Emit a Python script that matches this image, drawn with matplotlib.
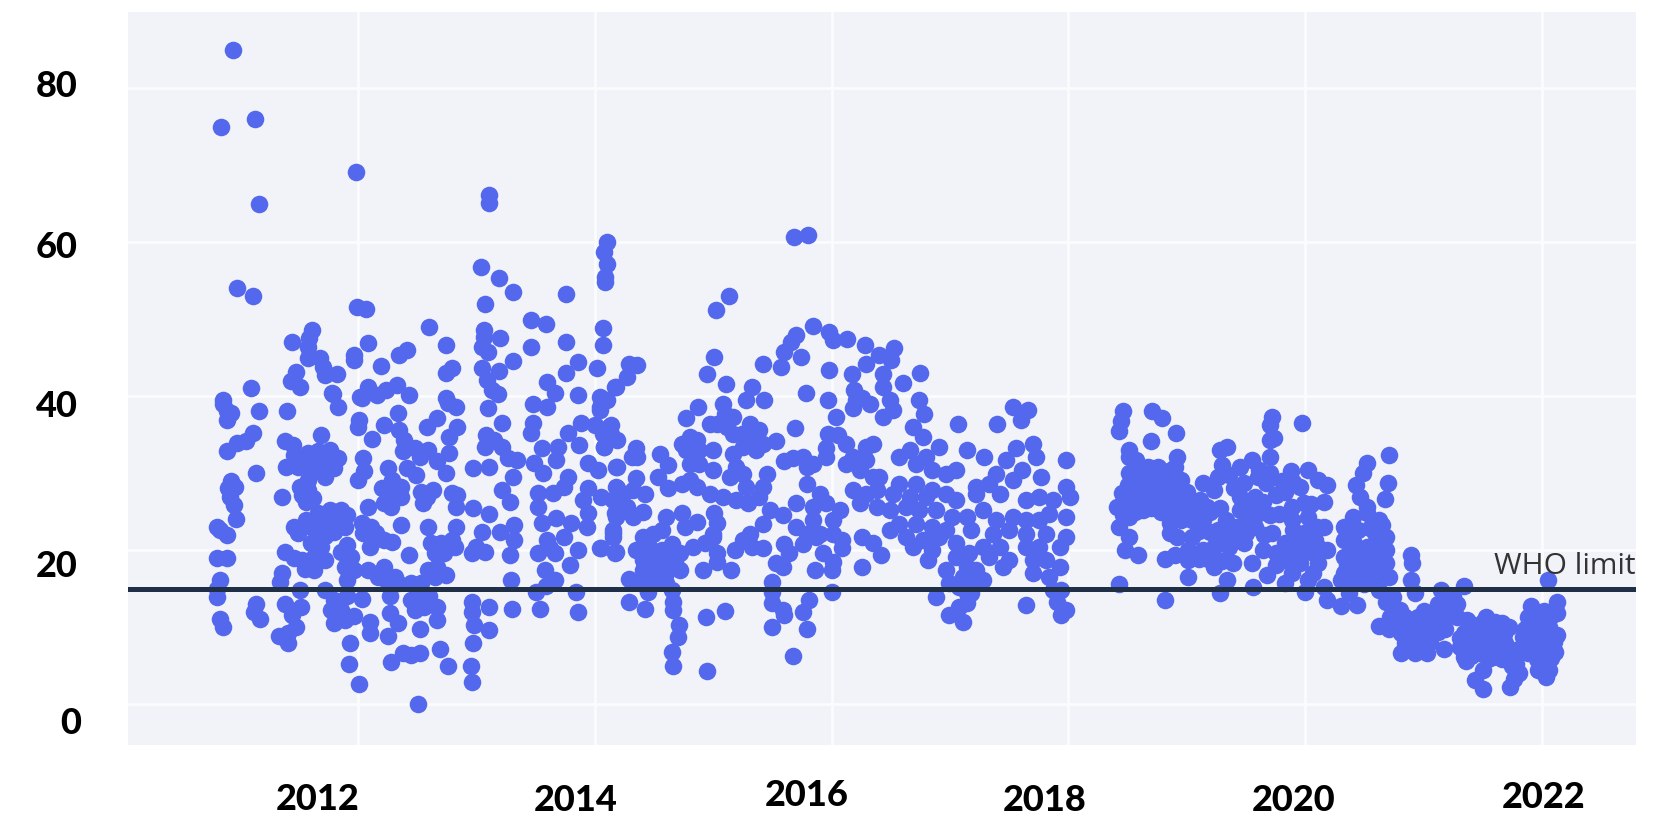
import matplotlib
matplotlib.use("Agg")
import matplotlib.pyplot as plt
from matplotlib.transforms import ScaledTranslation

BASE_YEAR = 2000
WHO_LIMIT = 15
X_TICKS = [2012, 2014, 2016, 2018, 2020, 2022]
Y_TICKS = [0, 20, 40, 60, 80]

# (years since 2000, PM2.5 reading)
outliers = [(10.94,84.9),(10.84,75.0),(11.13,76.0),(11.16,64.9),(11.98,69.1),(13.11,66.1),(13.11,65.1),(10.98,54.0),(11.11,53.0),
(13.04,56.8),(13.19,55.3),(13.31,53.5),(13.76,53.2),(14.10,60.0),(14.08,58.7),(14.10,57.2),(14.09,55.5),(14.09,54.8),(11.99,51.6),(12.07,51.3),
(12.60,49.0),(12.74,46.6),(13.07,51.9),(13.46,49.9),(13.59,49.3),(13.76,47.0),(14.07,48.8),(14.07,46.6),(11.61,48.6),(11.59,47.5),(11.58,46.4),
(11.44,47.0),(11.58,44.9),(11.68,44.9),(11.70,43.8),(11.72,42.7),(11.82,42.9),(11.48,43.1),(11.43,42.0),(11.51,41.2),(11.10,41.0),(11.97,45.3),
(11.97,44.7),(12.08,46.9),(12.19,43.9),(12.41,46.0),(12.35,45.3),(12.79,43.6),(12.74,43.0),(13.05,43.6),(13.09,42.1),(13.13,40.8),(13.18,40.3),
(13.06,48.6),(13.06,47.7),(13.05,46.4),(13.10,45.7),(13.20,47.5),(13.31,44.6),(13.19,43.2),(13.46,46.4),(13.86,44.4),(13.76,43.0),(14.02,43.6),
(13.60,41.8),(13.66,40.4),(13.86,40.1),(14.17,41.2),(11.78,40.4),(12.08,41.2),(12.02,39.9),(12.24,40.8),(12.33,41.4),(12.43,40.1),(12.16,40.1),
(12.74,39.7),(10.86,39.5),(14.04,39.9)]

early_2011 = [(10.86,39.0),(10.89,38.0),(10.93,37.8),(10.89,36.9),(11.16,38.0),(11.40,38.0),(11.11,35.2),(11.05,34.1),(10.98,33.9),(10.89,32.9),
(11.14,30.0),(10.93,29.0),(10.90,28.0),(10.96,28.2),(10.92,26.9),(10.95,25.8),(10.97,24.0),(10.81,23.0),(10.89,22.0),(10.83,22.6),(10.81,18.9),
(10.89,18.9),(10.83,16.1),(10.81,15.0),(10.81,13.9),(10.83,11.1),(10.86,10.0),(11.14,13.0),(11.12,12.0),(11.17,11.0),(11.38,13.0),(11.52,12.6),
(11.44,11.6),(11.48,10.0),(11.33,8.8),(11.41,9.2),(11.41,7.9),(11.36,17.0),(11.34,15.9),(11.51,14.8),(11.72,14.8)]

late_2011 = [(11.38,34.1),(11.45,33.7),(11.46,32.4),(11.39,30.8),(11.69,35.0),(11.58,32.6),(11.66,32.8),(11.76,33.0),(11.83,31.9),(11.80,30.6),
(11.72,29.5),(11.63,30.4),(11.55,30.8),(11.49,30.8),(11.69,31.7),(11.60,31.5),(11.75,31.3),(11.58,29.1),(11.51,28.2),(11.58,27.8),(11.53,27.2),
(11.62,26.7),(11.56,26.3),(11.36,26.9),(11.46,23.0),(11.56,23.9),(11.66,24.8),(11.76,25.2),(11.86,25.2),(11.91,24.6),(11.89,23.0),(11.80,22.4),
(11.69,22.6),(11.60,23.0),(11.49,22.2),(11.73,23.9),(11.83,23.9),(11.38,19.8),(11.46,18.9),(11.55,17.6),(11.63,17.4),(11.72,18.7),(11.69,20.4),
(11.60,20.9),(11.72,21.8),(11.63,19.1),(11.53,18.7),(11.91,20.7),(11.86,19.8),(11.94,19.1),(11.89,17.8),(11.97,17.4),(11.91,16.1),(11.80,13.5),
(11.91,14.0),(11.77,12.2),(11.86,12.2),(11.97,11.4),(11.80,10.5),(11.89,10.9),(11.93,7.9),(11.92,5.2),(11.79,40.2),(11.83,38.6)]

year_2012 = [(12.08,17.4),(12.22,17.8),(12.17,16.5),(12.31,16.5),(12.25,15.7),(12.03,13.7),(12.10,10.7),(12.10,9.2),(12.25,8.8),(12.01,2.6),(12.27,11.8),
(12.34,10.5),(12.28,5.5),(12.38,6.6),(12.45,6.4),(12.52,6.6),(12.27,14.0),(12.51,0.0),(12.08,25.6),(12.03,23.5),(12.11,23.0),(12.10,20.4),(12.22,21.3),
(12.29,21.1),(12.36,23.3),(12.15,22.2),(12.04,22.2),(12.25,30.6),(12.20,28.0),(12.22,26.1),(12.28,25.6),(12.36,26.9),(12.29,29.1),(12.36,28.2),
(12.25,27.4),(12.41,30.6),(12.49,29.8),(12.53,27.6),(12.63,27.8),(12.55,26.1),(12.58,26.9),(12.59,23.0),(12.83,23.0),(12.62,20.9),(12.70,20.9),
(12.79,21.3),(12.73,19.6),(12.82,20.4),(12.65,19.6),(12.43,19.4),(12.67,17.8),(12.74,16.8),(12.59,17.4),(12.65,16.5),(12.45,15.7),(12.53,15.7),
(12.34,15.7),(12.53,14.0),(12.48,12.2),(12.56,12.6),(12.67,12.6),(12.67,10.9),(12.52,9.8),(12.45,13.5),(12.60,14.0),(12.69,7.1),(12.76,4.9),
(12.97,7.9),(12.95,4.9),(12.96,2.9),(12.96,13.3),(12.96,12.0),(12.98,10.3),(12.97,30.6),(12.97,25.4),(13.00,20.4),(12.96,19.6),(12.79,27.4),
(12.84,27.2),(12.83,25.6),(12.76,39.1),(12.83,38.6),(12.34,37.8),(12.01,36.9),(12.00,36.0),(12.22,36.3),(12.12,34.4),(12.35,35.6),(12.39,34.3),
(12.38,32.8),(12.48,33.2),(12.59,33.0),(12.52,32.1),(12.58,36.0),(12.67,37.1),(12.84,36.0),(12.77,34.7),(12.77,32.6),(12.67,31.5),(12.74,30.0),
(12.03,39.7),(12.04,32.0),(12.05,30.2),(12.00,29.1)]

year_2013 = [(13.11,9.6),(13.11,12.6),(13.29,16.1),(13.30,12.4),(13.54,12.3),(13.86,12.0),(13.84,14.6),(13.50,14.6),(13.59,15.3),(13.11,30.8),(13.11,24.7),
(13.05,22.4),(13.20,22.3),(13.32,23.3),(13.28,19.4),(13.32,21.3),(13.07,19.8),(13.22,27.8),(13.28,26.3),(13.31,29.5),(13.34,31.7),(13.27,31.9),
(13.22,33.4),(13.15,34.3),(13.08,35.0),(13.07,33.4),(13.10,38.4),(13.22,36.5),(13.48,38.9),(13.60,38.6),(14.08,39.5),(14.04,38.2),(13.48,36.5),
(13.46,35.2),(13.55,33.2),(13.67,31.7),(13.49,31.3),(13.56,30.0),(13.52,27.4),(13.65,27.4),(13.77,29.5),(13.74,28.2),(13.52,25.6),(13.69,33.4),
(13.77,35.2),(13.88,36.5),(14.00,36.3),(14.14,36.3),(14.08,33.4),(14.19,34.3),(13.87,33.7),(13.94,31.3),(14.03,30.4),(14.19,30.8),(13.94,28.0),
(14.05,26.9),(13.90,26.5),(13.94,24.8),(14.19,28.0),(14.17,24.8),(14.15,22.2),(14.05,20.2),(14.18,19.8),(13.55,23.5),(13.67,24.1),(13.80,23.5),
(13.93,23.0),(13.60,21.3),(13.52,19.6),(13.66,19.6),(13.58,17.4),(13.66,16.1),(13.79,18.1),(13.86,20.0),(13.74,21.7),(13.62,20.2)]

year_2014 = [(14.29,44.2),(14.36,44.0),(14.27,42.5),(14.18,41.2),(14.10,39.5),(14.04,38.6),(14.12,36.0),(14.07,35.1),(14.14,35.1),(14.08,33.4),(14.18,30.8),
(14.35,33.2),(14.31,32.1),(14.36,32.1),(14.55,32.5),(14.62,31.0),(14.53,29.5),(14.62,28.0),(14.35,29.3),(14.18,28.2),(14.42,27.3),(14.32,27.8),
(14.24,27.3),(14.15,26.5),(14.27,25.6),(14.41,25.0),(14.32,24.3),(14.18,24.3),(14.15,22.6),(14.15,21.7),(14.04,20.2),(14.17,19.6),(14.60,24.3),
(14.74,24.8),(14.86,23.7),(14.76,23.0),(14.41,21.7),(14.35,20.0),(14.49,22.1),(14.57,22.6),(14.65,20.8),(14.46,20.4),(14.57,20.0),(14.41,18.7),
(14.52,18.3),(14.62,18.7),(14.41,17.4),(14.52,17.0),(14.60,17.0),(14.72,17.4),(14.29,16.3),(14.38,15.7),(14.50,15.9),(14.60,15.7),(14.65,14.8),
(14.45,14.6),(14.29,13.3),(14.42,12.4),(14.66,13.3),(14.66,12.2),(14.71,10.2),(14.70,8.7),(14.65,6.8),(14.66,5.0),(14.94,11.3),(14.95,4.3),
(14.91,17.4),(14.72,19.6),(14.83,20.4),(14.93,20.9),(14.77,37.1),(14.87,38.6),(14.97,36.4),(14.95,42.9),(14.80,34.7),(14.74,33.8),(14.86,34.3),
(14.77,33.0),(14.88,33.0),(14.80,31.2),(14.88,31.2),(14.80,29.1),(14.74,28.6),(14.86,28.2),(14.97,27.3),
(14.45,18.8),(14.50,19.4),(14.55,18.5),(14.58,19.7),(14.62,17.5),(14.47,16.6),(14.56,16.3),(14.68,18.4)]

year_2015 = [(15.10,12.1),(15.03,18.5),(15.03,19.6),(15.15,17.4),(15.00,21.7),(15.01,24.8),(15.03,23.5),(15.00,22.1),(15.11,41.6),(15.08,39.0),(15.10,37.7),
(15.17,37.3),(15.03,36.4),(15.12,36.0),(15.17,35.1),(15.28,39.5),(15.33,41.2),(15.43,39.5),(15.01,45.1),(15.02,51.2),(15.13,53.0),(15.31,36.4),
(15.39,35.6),(15.24,35.1),(15.31,34.3),(15.53,34.1),(15.42,33.8),(15.25,33.4),(15.36,33.0),(15.00,33.0),(15.00,30.4),(15.17,32.5),(15.19,30.8),
(15.14,29.5),(15.25,29.9),(15.28,28.2),(15.45,29.9),(15.42,28.2),(15.08,26.9),(15.19,26.5),(15.29,26.1),(15.39,26.9),(15.48,25.2),(15.70,26.1),
(15.59,24.5),(15.42,23.4),(15.31,22.1),(15.25,21.3),(15.18,20.0),(15.33,20.4),(15.42,20.2),(15.53,18.3),(15.59,17.8),(15.50,15.9),(15.50,14.6),
(15.50,13.1),(15.59,12.2),(15.60,11.5),(15.50,10.0),(15.79,9.8),(15.81,13.5),(15.76,12.0),(15.67,6.3),(15.86,17.4),(15.93,19.6),(15.60,20.8),
(15.70,23.0),(15.79,22.1),(15.64,19.6),(15.76,20.8),(15.87,21.7),(15.90,27.3),(15.84,25.6),(15.95,26.1),(15.84,23.9),(15.90,22.1),(15.79,28.6),
(15.79,30.8),(15.76,32.1),(15.84,31.2),(15.60,31.5),(15.67,31.9),(15.95,33.2),(15.95,32.1),(15.69,35.8),(15.97,35.1),(15.78,40.4),(15.97,39.5),
(15.42,44.2),(15.57,43.8),(15.60,45.7),(15.66,47.0),(15.70,47.9),(15.74,45.1),(15.84,49.1),(15.98,48.3),(15.98,43.4),(15.68,60.6),(15.80,60.9)]

year_2016 = [(16.00,14.6),(16.00,17.4),(16.01,18.5),(16.26,17.8),(16.42,19.3),(16.35,20.9),(16.26,21.7),(16.01,22.1),(16.09,21.3),(16.09,20.2),(16.07,25.2),
(16.01,23.9),(16.05,34.9),(16.04,37.3),(16.01,47.3),(16.13,47.4),(16.17,42.9),(16.28,46.6),(16.53,46.2),(16.40,45.3),(16.50,44.7),(16.29,44.2),
(16.43,42.9),(16.75,43.0),(16.60,41.7),(16.19,40.8),(16.26,39.7),(16.18,38.4),(16.32,39.0),(16.43,41.2),(16.49,39.5),(16.43,37.3),(16.52,38.2),
(16.21,39.5),(16.74,39.5),(16.78,37.7),(16.69,36.0),(16.77,34.7),(16.91,33.4),(16.12,33.8),(16.29,33.4),(16.35,33.8),(16.18,32.1),(16.29,31.7),
(16.12,31.2),(16.24,30.4),(16.35,29.5),(16.40,29.5),(16.18,27.8),(16.29,27.3),(16.38,27.8),(16.57,32.1),(16.66,33.0),(16.80,32.1),(16.71,31.2),
(16.85,30.4),(16.97,29.9),(16.57,28.6),(16.71,28.6),(16.85,27.8),(16.97,27.3),(16.52,27.3),(16.66,26.9),(16.80,26.9),(16.24,26.1),(16.38,25.6),
(16.49,25.2),(16.63,25.6),(16.74,25.2),(16.88,25.2),(16.57,23.4),(16.71,23.4),(16.85,23.0),(16.49,22.6),(16.97,22.6),(16.63,21.7),(16.77,21.3),
(16.91,21.7),(16.69,20.4),(16.81,18.7),(16.85,20.0),(16.88,13.9),(16.99,11.5),(16.97,17.4),(16.99,15.7)]

year_2017 = [(17.05,30.4),(17.05,26.5),(17.02,24.3),(17.14,24.3),(17.05,20.9),(17.18,22.6),(17.07,36.4),(17.40,36.4),(17.53,38.6),(17.66,38.2),(17.60,36.9),
(17.14,33.0),(17.29,32.1),(17.98,31.7),(17.77,29.5),(17.70,33.8),(17.73,32.1),(17.56,33.2),(17.47,31.7),(17.61,30.4),(17.39,29.9),(17.53,29.1),
(17.33,28.6),(17.22,28.2),(17.42,27.3),(17.22,27.3),(17.28,25.2),(17.39,23.9),(17.53,24.3),(17.64,23.9),(17.36,22.1),(17.50,22.6),(17.28,20.4),
(17.42,20.4),(17.50,18.7),(17.33,19.1),(17.64,26.5),(17.75,26.9),(17.87,26.5),(17.98,28.2),(18.01,26.9),(17.84,24.7),(17.98,24.3),(17.75,23.9),
(17.64,22.1),(17.81,22.1),(17.98,21.7),(17.93,20.4),(17.75,20.4),(17.64,20.4),(17.70,18.7),(17.81,18.7),(17.93,17.8),(17.70,17.0),(17.84,16.5),
(17.87,14.8),(17.94,14.8),(17.90,13.3),(17.94,11.5),(17.98,12.2),(17.64,12.9),(17.11,10.7),(17.14,13.1),(17.08,12.6),(17.18,14.4),(17.05,19.1),
(17.16,19.6),(17.11,16.5),(17.22,17.4),(17.22,15.7),(17.08,15.2),(17.14,14.4),(17.28,16.1),(17.45,17.8),(17.14,17.8)]

year_2018 = [(18.46,38.0),(18.44,36.7),(18.43,35.4),(18.71,38.0),(18.79,37.1),(18.91,35.2),(18.70,34.1),(18.51,33.0),(18.51,32.1),(18.57,31.7),(18.92,32.1),
(18.67,30.8),(18.76,30.8),(18.87,30.4),(18.51,30.0),(18.60,29.5),(18.73,29.5),(18.86,29.1),(18.95,29.1),(18.45,27.4),(18.57,27.8),(18.70,27.8),
(18.82,27.8),(18.41,25.6),(18.54,26.0),(18.67,26.0),(18.79,26.0),(18.51,24.3),(18.63,25.2),(18.43,23.0),(18.51,21.7),(18.48,20.0),(18.59,19.4),
(18.43,15.6),(18.82,13.5),(18.82,18.8),(18.90,19.3),(18.86,23.5),(18.86,22.2),(18.95,23.9),(18.92,21.7),
(18.55,29.3),(18.62,28.6),(18.65,29.9),(18.70,30.6),(18.78,29.5),(18.82,30.0),(18.90,30.8),(18.85,27.0),(18.74,27.0),(18.62,26.8),(18.50,28.5),
(18.48,26.6),(18.56,25.0),(18.70,25.4),(18.78,25.0),(18.46,24.6),(18.90,28.0),(18.92,26.6),(19.00,27.5),(19.00,25.8),(18.95,24.8),(18.90,25.4),
(18.60,27.5),(18.73,28.6),(18.80,28.7)]

year_2019 = [(19.34,33.4),(19.28,33.0),(19.04,23.9),(19.04,21.7),(19.01,20.0),(19.01,18.7),(19.01,16.5),(19.14,28.7),(19.11,26.5),(19.17,25.6),(19.04,25.2),
(19.23,27.8),(19.14,23.9),(19.14,20.0),(19.26,29.5),(19.36,29.7),(19.45,30.8),(19.55,31.7),(19.70,32.1),(19.70,34.3),(19.74,34.5),(19.72,37.3),
(19.70,36.2),(19.97,36.5),(19.80,29.0),(19.88,30.2),(19.70,30.0),(19.61,30.4),(19.48,28.7),(19.67,28.7),(19.96,28.2),(19.83,27.6),(19.45,26.9),
(19.58,26.9),(19.45,25.2),(19.61,24.8),(19.33,23.9),(19.26,22.6),(19.42,23.0),(19.58,23.0),(19.23,20.4),(19.36,20.4),(19.48,20.9),(19.64,20.0),
(19.23,17.8),(19.39,18.3),(19.55,18.3),(19.34,16.1),(19.28,14.4),(19.56,15.2),(19.89,25.6),(19.99,26.1),(19.89,23.9),(19.72,22.2),(19.99,22.2),
(19.83,20.9),(19.92,20.0),(19.83,18.7),(19.96,18.3),(19.89,17.0),(19.83,15.7),(20.00,14.6),
(19.20,25.0),(19.28,25.5),(19.30,21.3),(19.20,22.3),(19.10,22.5),(19.10,18.8),(19.18,18.8),(19.30,18.6),(19.38,22.0),(19.50,22.2),(19.52,24.0),
(19.55,26.0),(19.64,26.2),(19.65,22.0),(19.70,24.5),(19.75,27.2),(19.78,24.7),(19.90,22.6),(19.95,20.9),(19.90,28.8),(19.75,19.6),(19.75,18.0),
(19.68,16.8),(19.30,31.0),(19.40,28.0),(19.60,29.5)]

year_2020 = [(20.02,30.4),(20.11,29.1),(20.18,28.4),(20.16,26.3),(20.02,24.3),(20.16,23.0),(20.08,21.3),(20.18,20.0),(20.11,18.3),(20.02,16.1),(20.07,17.0),
(20.16,15.2),(20.18,13.5),(20.30,12.7),(20.71,32.3),(20.52,31.3),(20.49,30.0),(20.43,28.4),(20.46,26.9),(20.52,25.6),(20.70,28.7),(20.67,26.6),
(20.40,24.3),(20.52,24.8),(20.62,23.9),(20.33,23.0),(20.68,21.7),(20.33,21.3),(20.59,22.2),(20.52,20.4),(20.68,20.0),(20.33,19.1),(20.46,19.1),
(20.59,18.7),(20.68,18.3),(20.33,17.0),(20.52,17.0),(20.62,17.0),(20.71,16.5),(20.30,16.1),(20.43,15.7),(20.62,14.8),(20.44,12.8),(20.37,14.4),
(20.89,19.4),(20.90,18.3),(20.89,16.1),(20.93,14.4),(20.74,13.9),(20.77,12.4),(20.84,11.3),(20.62,10.1),(20.71,9.8),(20.81,9.2),(20.84,7.9),
(20.81,6.6),(20.93,6.6),(20.93,8.7),
(20.05,26.0),(20.05,22.8),(20.05,19.8),(20.12,20.2),(20.10,23.0),(20.40,21.2),(20.45,22.6),(20.45,17.2),(20.55,18.0),(20.55,22.9),(20.60,20.5),
(20.42,20.0),(20.65,23.2),(20.35,18.0),(20.40,15.6),(20.50,15.6),(20.57,16.0),(20.78,10.2),(20.86,10.0),(20.90,10.9),(20.95,11.3),(20.88,7.5),
(20.97,7.8),(20.80,12.2),(20.86,8.6),(20.72,11.3),(20.68,13.2)]

year_2021 = [(21.03,6.6),(21.17,7.2),(20.99,10.0),(21.06,11.8),(21.12,13.0),(21.15,14.8),(21.25,14.0),(21.34,15.3),(21.18,11.3),(21.28,11.3),(21.37,10.9),
(21.53,11.3),(21.66,10.5),(21.34,9.2),(21.47,9.6),(21.59,9.2),(21.72,10.0),(21.31,7.4),(21.43,7.9),(21.56,7.4),(21.69,7.9),(21.34,6.1),(21.47,6.6),
(21.59,6.1),(21.72,6.6),(21.50,4.4),(21.43,3.1),(21.50,2.0),(21.75,4.9),(21.73,2.2),(21.81,4.0),(21.78,7.0),(21.91,12.7),(21.88,11.3),(22.00,10.5),
(22.13,13.3),(22.13,11.8),(21.84,8.7),(21.97,9.2),(22.13,9.0),(21.88,6.6),(22.00,7.4),(22.11,6.8),(21.97,4.4),(22.03,3.5),(22.06,4.4),(22.05,16.1),
(21.91,10.9),(22.06,10.0),
(21.00,12.1),(21.02,8.4),(21.08,9.6),(21.10,11.0),(21.12,9.3),(21.18,9.8),(21.22,12.4),(21.20,14.1),(21.28,13.0),(21.05,8.0),
(21.40,10.4),(21.45,8.8),(21.50,10.6),(21.53,8.4),(21.60,10.7),(21.63,8.4),(21.65,7.2),(21.40,8.5),(21.38,7.0),(21.50,7.0),(21.62,6.6),(21.68,9.1),
(21.70,7.2),(21.40,6.3),(21.54,5.9),(21.66,5.8),(21.31,8.6),(21.36,5.6),(21.78,5.2),(21.76,3.2),(21.95,11.9),(22.02,12.1),(22.08,11.4),(21.93,7.8),
(22.05,8.4),(21.86,9.8),(21.96,5.8),(22.08,6.0),(22.02,5.2),(21.95,10.4),(22.10,8.1),(21.84,7.5)]

groups = [outliers, early_2011, late_2011, year_2012, year_2013, year_2014, year_2015, year_2016, year_2017, year_2018, year_2019, year_2020, year_2021]
dates = [BASE_YEAR + p[0] for g in groups for p in g]
values = [p[1] for g in groups for p in g]

plt.rcParams['font.family'] = ['Lato', 'DejaVu Sans']
W, H = 1664, 816
fig = plt.figure(figsize=(W / 100, H / 100), dpi=100, facecolor='white')
ax = fig.add_axes([128 / W, (H - 745) / H, (1636 - 128) / W, (745 - 12) / H], facecolor='#F1F3F8')
ax.set_xlim(2010.057, 2022.794)
ax.set_ylim(-5.32, 89.87)
for s in ax.spines.values():
    s.set_visible(False)
ax.set_axisbelow(True)
ax.grid(True, color='#FBFCFE', linewidth=1.9)
ax.tick_params(length=0)
ax.set_xticks(X_TICKS)
ax.set_yticks(Y_TICKS)
ax.set_xticklabels([str(t) for t in X_TICKS], fontsize=26, fontweight='black', color='black')
ax.set_yticklabels([str(t) for t in Y_TICKS], fontsize=26, fontweight='black', color='black')
ax.tick_params(axis='x', pad=28)
ax.tick_params(axis='y', pad=36)

# the pasted labels sit off their gridlines: offsets in px
x_off = [(-40, 1), (-19, 0), (-25, 5), (-24, 0), (-12, 0), (2, 3)]
y_off = [(3, -16.6), (0, -13.6), (0, -7), (0, -2), (0, 5)]
for lab, (dx, dy) in zip(ax.get_xticklabels(), x_off):
    lab.set_transform(lab.get_transform() + ScaledTranslation(dx / 100, dy / 100, fig.dpi_scale_trans))
for lab, (dx, dy) in zip(ax.get_yticklabels(), y_off):
    lab.set_transform(lab.get_transform() + ScaledTranslation(dx / 100, dy / 100, fig.dpi_scale_trans))

ax.scatter(dates, values, s=160, color='#5468EE', linewidths=0, zorder=3)
ax.axhline(WHO_LIMIT, color='#1F2F45', linewidth=3.6, zorder=4)
ax.text(2022.794, WHO_LIMIT + 1.0, 'WHO limit', ha='right', va='bottom', fontsize=21.5,
        family='Open Sans', color='#333333', zorder=5)
fig.savefig('out.png', dpi=100)
